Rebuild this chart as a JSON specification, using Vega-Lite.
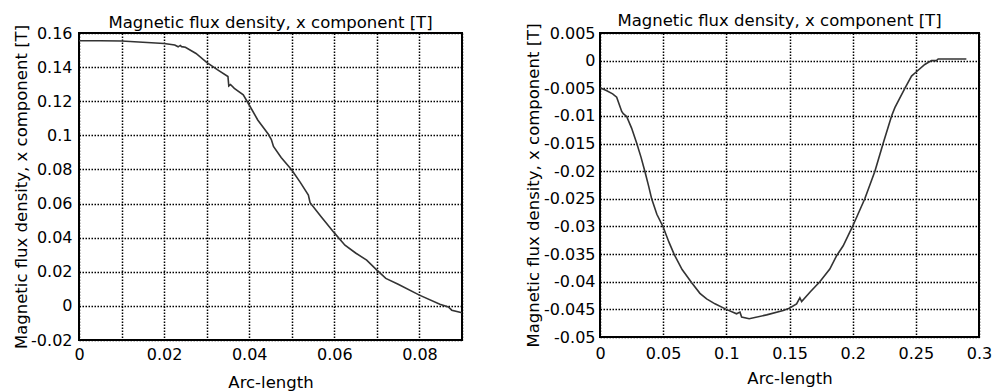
{
  "$schema": "https://vega.github.io/schema/vega-lite/v6.json",
  "background": "white",
  "padding": {"left": 12, "top": 12, "right": 10, "bottom": 2},
  "bounds": "flush",
  "spacing": 138,
  "datasets": {
    "left": [
      {"s": 0, "bx": 0.1555}, {"s": 0.005, "bx": 0.1555}, {"s": 0.01, "bx": 0.1553}, {"s": 0.015, "bx": 0.1546},
      {"s": 0.02, "bx": 0.1538}, {"s": 0.0225, "bx": 0.153}, {"s": 0.0233, "bx": 0.1519}, {"s": 0.0238, "bx": 0.1527},
      {"s": 0.0241, "bx": 0.152}, {"s": 0.025, "bx": 0.1516}, {"s": 0.0275, "bx": 0.148}, {"s": 0.03, "bx": 0.1428},
      {"s": 0.0325, "bx": 0.1385}, {"s": 0.035, "bx": 0.1345}, {"s": 0.0352, "bx": 0.129}, {"s": 0.0356, "bx": 0.1298},
      {"s": 0.0365, "bx": 0.1275}, {"s": 0.0386, "bx": 0.1238}, {"s": 0.04, "bx": 0.1178}, {"s": 0.042, "bx": 0.109},
      {"s": 0.0445, "bx": 0.1006}, {"s": 0.0452, "bx": 0.0975}, {"s": 0.0457, "bx": 0.0935}, {"s": 0.0475, "bx": 0.087},
      {"s": 0.05, "bx": 0.0797}, {"s": 0.052, "bx": 0.0724}, {"s": 0.0539, "bx": 0.065}, {"s": 0.0543, "bx": 0.0605},
      {"s": 0.057, "bx": 0.052}, {"s": 0.06, "bx": 0.0428}, {"s": 0.0625, "bx": 0.0356}, {"s": 0.065, "bx": 0.031},
      {"s": 0.0676, "bx": 0.0268}, {"s": 0.07, "bx": 0.021}, {"s": 0.0721, "bx": 0.0161}, {"s": 0.075, "bx": 0.0127},
      {"s": 0.08, "bx": 0.0063}, {"s": 0.0848, "bx": 0.001}, {"s": 0.0868, "bx": -0.0006}, {"s": 0.0876, "bx": -0.0025},
      {"s": 0.09, "bx": -0.004}
    ],
    "right": [
      {"s": 0, "bx": -0.0049}, {"s": 0.005, "bx": -0.0054}, {"s": 0.01, "bx": -0.006}, {"s": 0.0132, "bx": -0.0066},
      {"s": 0.0172, "bx": -0.0092}, {"s": 0.0184, "bx": -0.0096}, {"s": 0.0211, "bx": -0.0101}, {"s": 0.025, "bx": -0.0122},
      {"s": 0.029, "bx": -0.0149}, {"s": 0.0325, "bx": -0.0175}, {"s": 0.0356, "bx": -0.0201}, {"s": 0.0385, "bx": -0.0227},
      {"s": 0.0409, "bx": -0.025}, {"s": 0.045, "bx": -0.0278}, {"s": 0.05, "bx": -0.0301}, {"s": 0.0545, "bx": -0.0328},
      {"s": 0.0588, "bx": -0.0351}, {"s": 0.065, "bx": -0.0378}, {"s": 0.0726, "bx": -0.0402}, {"s": 0.0791, "bx": -0.0421},
      {"s": 0.0844, "bx": -0.0431}, {"s": 0.091, "bx": -0.044}, {"s": 0.1, "bx": -0.045}, {"s": 0.1081, "bx": -0.0458},
      {"s": 0.1108, "bx": -0.0455}, {"s": 0.1121, "bx": -0.0464}, {"s": 0.1181, "bx": -0.0467}, {"s": 0.1319, "bx": -0.046},
      {"s": 0.145, "bx": -0.0452}, {"s": 0.1498, "bx": -0.0448}, {"s": 0.1556, "bx": -0.044}, {"s": 0.1582, "bx": -0.0429},
      {"s": 0.1596, "bx": -0.0436}, {"s": 0.1665, "bx": -0.0418}, {"s": 0.174, "bx": -0.04}, {"s": 0.1819, "bx": -0.0377},
      {"s": 0.1873, "bx": -0.0353}, {"s": 0.1925, "bx": -0.0335}, {"s": 0.1999, "bx": -0.03}, {"s": 0.2096, "bx": -0.025},
      {"s": 0.2176, "bx": -0.02}, {"s": 0.2241, "bx": -0.015}, {"s": 0.2308, "bx": -0.01}, {"s": 0.2334, "bx": -0.0085},
      {"s": 0.2413, "bx": -0.005}, {"s": 0.2466, "bx": -0.0028}, {"s": 0.25, "bx": -0.0021}, {"s": 0.2571, "bx": -0.0007},
      {"s": 0.2624, "bx": 0}, {"s": 0.2663, "bx": 0}, {"s": 0.2677, "bx": 0.0003}, {"s": 0.29, "bx": 0.0003}
    ]
  },
  "hconcat": [
    {
      "width": 383,
      "height": 307,
      "data": {"name": "left"},
      "title": {"text": "Magnetic flux density, x component [T]", "frame": "group", "anchor": "middle", "baseline": "alphabetic", "offset": 6, "dy": 26},
      "mark": {"type": "line", "color": "#333333", "strokeWidth": 1.6, "interpolate": "linear"},
      "encoding": {
        "x": {
          "field": "s", "type": "quantitative",
          "scale": {"domain": [0, 0.09], "nice": false, "zero": false},
          "axis": {
            "title": "Arc-length",
            "values": [0, 0.01, 0.02, 0.03, 0.04, 0.05, 0.06, 0.07, 0.08, 0.09],
            "format": "~g",
            "labelExpr": "round(datum.value * 100) % 2 == 0 ? datum.label : ''",
            "labelPadding": 6,
            "titleBaseline": "alphabetic",
            "titleY": 47
          }
        },
        "y": {
          "field": "bx", "type": "quantitative",
          "scale": {"domain": [-0.02, 0.16], "nice": false, "zero": false},
          "axis": {
            "title": "Magnetic flux density, x component [T]",
            "values": [-0.02, 0, 0.02, 0.04, 0.06, 0.08, 0.1, 0.12, 0.14, 0.16],
            "format": "~g",
            "labelExpr": "replace(datum.label, '\u2212', '-')",
            "labelPadding": 7,
            "titleBaseline": "alphabetic",
            "titleX": -52.3
          }
        }
      }
    },
    {
      "width": 379,
      "height": 304,
      "data": {"name": "right"},
      "title": {"text": "Magnetic flux density, x component [T]", "frame": "group", "anchor": "middle", "baseline": "alphabetic", "offset": 6, "dy": 26, "dx": -10},
      "mark": {"type": "line", "color": "#333333", "strokeWidth": 1.6, "interpolate": "linear"},
      "encoding": {
        "x": {
          "field": "s", "type": "quantitative",
          "scale": {"domain": [0, 0.3], "nice": false, "zero": false},
          "axis": {
            "title": "Arc-length",
            "values": [0, 0.05, 0.1, 0.15, 0.2, 0.25, 0.3],
            "format": "~g",
            "labelPadding": 8,
            "titleBaseline": "alphabetic",
            "titleY": 46
          }
        },
        "y": {
          "field": "bx", "type": "quantitative",
          "scale": {"domain": [-0.05, 0.005], "nice": false, "zero": false},
          "axis": {
            "title": "Magnetic flux density, x component [T]",
            "values": [-0.05, -0.045, -0.04, -0.035, -0.03, -0.025, -0.02, -0.015, -0.01, -0.005, 0, 0.005],
            "format": "~g",
            "labelExpr": "replace(datum.label, '\u2212', '-')",
            "labelPadding": 5,
            "titleBaseline": "alphabetic",
            "titleX": -61.7
          }
        }
      }
    }
  ],
  "config": {
    "font": "DejaVu Sans",
    "view": {"stroke": "black", "strokeWidth": 2, "fill": "white"},
    "title": {"font": "DejaVu Sans", "fontSize": 16.5, "fontWeight": "normal", "color": "black"},
    "axis": {
      "labelFont": "DejaVu Sans", "labelFontSize": 16, "labelColor": "black",
      "titleFont": "DejaVu Sans", "titleFontSize": 16.5, "titleFontWeight": "normal", "titleColor": "black",
      "ticks": false, "domain": false,
      "grid": true, "gridColor": "black", "gridDash": [1.5, 1.5], "gridOpacity": 1, "gridWidth": 1.5,
      "labelFlush": false, "labelOverlap": false
    }
  }
}
